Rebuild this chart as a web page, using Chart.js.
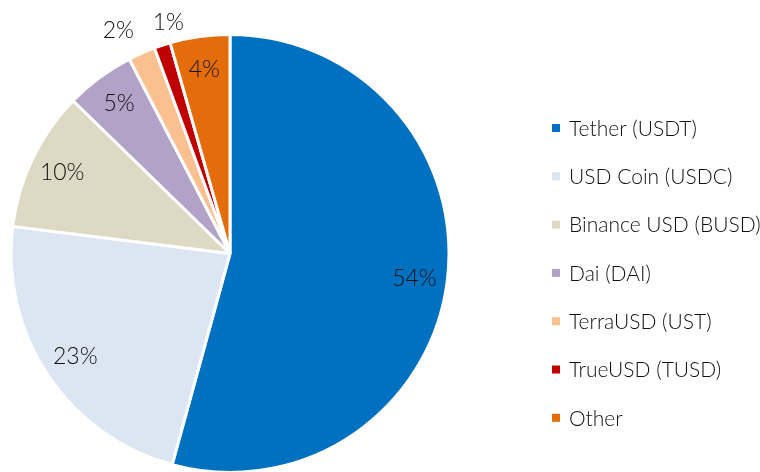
<!DOCTYPE html>
<html>
<head>
<meta charset="utf-8">
<script src="https://cdn.jsdelivr.net/npm/chart.js@4"></script>
<style>
  body { margin: 0; background: white; }
  #wrap { position: relative; width: 760px; height: 472px; }
</style>
</head>
<body>
<div id="wrap"><canvas id="piechart" width="760" height="472"></canvas></div>
<script>
const labels = ['Tether (USDT)', 'USD Coin (USDC)', 'Binance USD (BUSD)', 'Dai (DAI)', 'TerraUSD (UST)', 'TrueUSD (TUSD)', 'Other'];
const shares = [54.2, 22.7, 10.3, 5.1, 2.0, 1.2, 4.4];
const colors = ['#0070C0', '#DCE6F2', '#DDD9C4', '#B3A2C7', '#FAC090', '#C00000', '#E46C0A'];

const FONT = 'Lato, sans-serif';

// percent labels: inside the big slices, outside the small ones
const pctLabels = {
    id: 'pctLabels',
    afterDatasetsDraw(chart) {
        const c = chart.ctx;
        const arcs = chart.getDatasetMeta(0).data;
        c.save();
        c.font = '300 23px ' + FONT;
        c.fillStyle = '#111';
        c.textAlign = 'center';
        c.textBaseline = 'middle';
        let pos = arcs.map((arc, i) => {
            const mid = (arc.startAngle + arc.endAngle) / 2;
            const out = shares[i] < 3;
            const r = out ? arc.outerRadius * 1.11 : arc.outerRadius * 0.85;
            return {x: arc.x + Math.cos(mid) * r, y: arc.y + Math.sin(mid) * r, out: out};
        });
        // push neighbouring outside labels apart so they don't overlap
        for (let i = 0; i < pos.length - 1; i++) {
            const a = pos[i], b = pos[i + 1];
            if (a.out && b.out) {
                const gap = 50 - Math.abs(b.x - a.x);
                if (gap > 0) { a.x -= gap / 2; b.x += gap / 2; }
            }
        }
        pos.forEach((p, i) => c.fillText(Math.round(shares[i]) + '%', p.x, p.y));
        c.restore();
    }
};

// legend on the right
const sideLegend = {
    id: 'sideLegend',
    afterDraw(chart) {
        const c = chart.ctx;
        c.save();
        c.font = '300 21px ' + FONT;
        c.textBaseline = 'middle';
        labels.forEach((l, i) => {
            const y = 128 + i * 48.3;
            c.fillStyle = colors[i];
            c.fillRect(552, y - 4, 8, 8);
            c.fillStyle = '#111';
            c.fillText(l, 569, y + 1);
        });
        c.restore();
    }
};

new Chart(document.getElementById('piechart'), {
    type: 'pie',
    data: {
        labels: labels,
        datasets: [
            {
                data: shares,
                backgroundColor: colors,
                borderColor: 'white',
                borderWidth: 3
            }
        ]
    },
    options: {
        responsive: false,
        animation: false,
        radius: 219,
        layout: { padding: { left: 11, right: 311, top: 35, bottom: 0 } },
        plugins: {
            legend: { display: false },
            tooltip: { enabled: false }
        }
    },
    plugins: [pctLabels, sideLegend]
});
</script>
</body>
</html>
